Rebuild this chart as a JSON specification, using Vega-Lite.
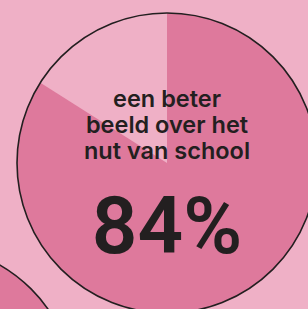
{
  "$schema": "https://vega.github.io/schema/vega-lite/v6.json",
  "width": 308,
  "height": 309,
  "autosize": "none",
  "padding": 0,
  "background": "#EFB0C6",
  "config": {"view": {"stroke": null}},
  "datasets": {
    "panels": [
      {"panel": "A", "col": 1, "row": 0, "label": "een beter\nbeeld over het\nnut van school", "pct": "84%"},
      {"panel": "B", "col": 0, "row": 1, "label": "", "pct": ""}
    ],
    "shares": [
      {"panel": "A", "col": 1, "row": 0, "answer": "wel", "share": 84},
      {"panel": "A", "col": 1, "row": 0, "answer": "niet", "share": 16}
    ]
  },
  "encoding": {
    "x": {"field": "col", "type": "quantitative", "axis": null, "scale": {"domain": [0.3099, 1.5826], "nice": false, "zero": false}},
    "y": {"field": "row", "type": "quantitative", "axis": null, "scale": {"domain": [-0.7026, 0.6293], "nice": false, "zero": false, "reverse": true}}
  },
  "layer": [
    {
      "data": {"name": "panels"},
      "mark": {"type": "arc", "outerRadius": 150, "theta": 0, "theta2": 6.2832, "fill": "#DE799C"}
    },
    {
      "data": {"name": "shares"},
      "mark": {"type": "arc", "outerRadius": 150},
      "encoding": {
        "theta": {"field": "share", "type": "quantitative", "stack": true},
        "color": {"field": "answer", "type": "nominal", "legend": null, "sort": ["wel", "niet"], "scale": {"domain": ["wel", "niet"], "range": ["#DE799C", "#EFB0C6"]}},
        "order": {"field": "answer", "sort": "descending"}
      }
    },
    {
      "data": {"name": "panels"},
      "mark": {"type": "arc", "outerRadius": 150, "theta": 0, "theta2": 6.2832, "fill": null, "fillOpacity": 0, "stroke": "#231F20", "strokeWidth": 1.6}
    },
    {
      "data": {"name": "panels"},
      "mark": {"type": "text", "lineBreak": "\n", "lineHeight": 26, "font": "Inter", "fontSize": 23.5, "fontWeight": 600, "color": "#231F20", "align": "center", "baseline": "alphabetic", "dy": -56.5},
      "encoding": {"text": {"field": "label"}}
    },
    {
      "data": {"name": "panels"},
      "mark": {"type": "text", "font": "Roboto", "fontSize": 80, "fontWeight": 600, "color": "#231F20", "align": "center", "baseline": "alphabetic", "dy": 90},
      "encoding": {"text": {"field": "pct"}}
    }
  ]
}
